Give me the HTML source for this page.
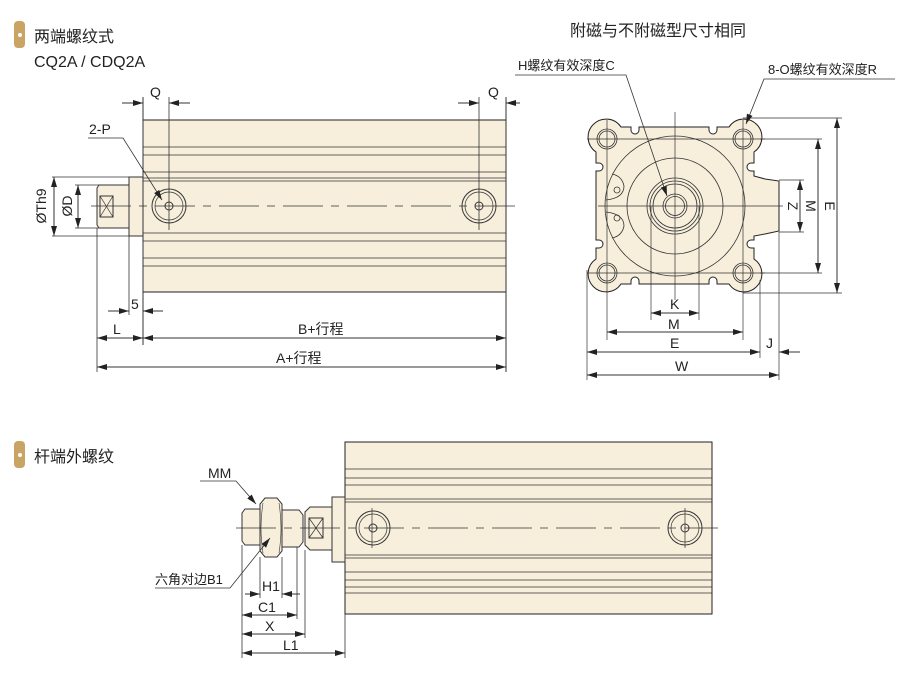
<!DOCTYPE html>
<html><head><meta charset="utf-8"><style>
html,body{margin:0;padding:0;background:#fff;width:924px;height:675px;overflow:hidden}
svg{display:block}
text{font-family:"Liberation Sans","Noto Sans CJK SC",sans-serif;fill:#222}
</style></head><body>
<svg width="924" height="675" viewBox="0 0 924 675" xmlns="http://www.w3.org/2000/svg">
<defs>
<marker id="a" viewBox="0 0 10 6" refX="10" refY="3" markerWidth="10" markerHeight="6" orient="auto-start-reverse" markerUnits="userSpaceOnUse"><path d="M0 0L10 3L0 6z" fill="#222"/></marker>
</defs>
<rect x="14" y="21" width="11" height="27" rx="4" fill="#c9a465"/><circle cx="20" cy="35" r="2" fill="#fff"/>
<text x="34" y="42" font-size="16">两端螺纹式</text>
<text x="34" y="67" font-size="16">CQ2A / CDQ2A</text>
<text x="570" y="36" font-size="16">附磁与不附磁型尺寸相同</text>
<rect x="14" y="441" width="11" height="27" rx="4" fill="#c9a465"/><circle cx="20" cy="455" r="2" fill="#fff"/>
<text x="34" y="462" font-size="16">杆端外螺纹</text>

<g stroke="#333" stroke-width="1" fill="none">
<rect x="143" y="120" width="363" height="172" fill="#f7efdc" stroke="#222"/>
<g stroke-width="0.8"><line x1="143" y1="147" x2="506" y2="147"/><line x1="143" y1="155" x2="506" y2="155"/><line x1="143" y1="172" x2="506" y2="172"/><line x1="143" y1="178" x2="506" y2="178"/><line x1="143" y1="181" x2="506" y2="181"/>
<line x1="143" y1="233" x2="506" y2="233"/><line x1="143" y1="241" x2="506" y2="241"/><line x1="143" y1="258" x2="506" y2="258"/><line x1="143" y1="266" x2="506" y2="266"/></g>
<rect x="129" y="177" width="14" height="59" fill="#f7efdc"/>
<path d="M99 185H129V228H99L97 225V188Z" fill="#f7efdc"/>
<rect x="100" y="196" width="13" height="21"/><path d="M100 196L113 217M113 196L100 217" stroke-width="0.7"/>
<circle cx="169" cy="206" r="17"/><circle cx="169" cy="206" r="14" stroke-width="0.7"/><circle cx="169" cy="206" r="4"/>
<circle cx="479" cy="206" r="17"/><circle cx="479" cy="206" r="14" stroke-width="0.7"/><circle cx="479" cy="206" r="4"/>
<line x1="91" y1="206" x2="515" y2="206" stroke-dasharray="40 8 8 8" stroke-width="0.7"/>
<line x1="169" y1="97" x2="169" y2="230" stroke-width="0.8"/><line x1="479" y1="97" x2="479" y2="230" stroke-width="0.8"/>
<line x1="143" y1="97" x2="143" y2="345"/><line x1="506" y1="97" x2="506" y2="372"/>
<line x1="122" y1="103" x2="143" y2="103" marker-end="url(#a)"/><line x1="190" y1="103" x2="169" y2="103" marker-end="url(#a)"/>
<line x1="458" y1="103" x2="479" y2="103" marker-end="url(#a)"/><line x1="520" y1="103" x2="506" y2="103" marker-end="url(#a)"/>
<polyline points="88,138 123,138 162,200" stroke-width="0.8" marker-end="url(#a)"/>
<line x1="52" y1="177" x2="129" y2="177" stroke-width="0.8"/><line x1="52" y1="236" x2="129" y2="236" stroke-width="0.8"/>
<line x1="75" y1="185" x2="99" y2="185" stroke-width="0.8"/><line x1="75" y1="228" x2="99" y2="228" stroke-width="0.8"/>
<line x1="54" y1="206" x2="54" y2="177" marker-end="url(#a)"/><line x1="54" y1="206" x2="54" y2="236" marker-end="url(#a)"/>
<line x1="78" y1="206" x2="78" y2="185" marker-end="url(#a)"/><line x1="78" y1="206" x2="78" y2="228" marker-end="url(#a)"/>
<line x1="129" y1="236" x2="129" y2="315" stroke-width="0.8"/><line x1="97" y1="228" x2="97" y2="372" stroke-width="0.8"/>
<line x1="108" y1="311" x2="129" y2="311" marker-end="url(#a)"/><line x1="163" y1="311" x2="143" y2="311" marker-end="url(#a)"/>
<line x1="120" y1="338" x2="97" y2="338" marker-end="url(#a)"/><line x1="120" y1="338" x2="143" y2="338" marker-end="url(#a)"/>
<line x1="320" y1="338" x2="143" y2="338" marker-end="url(#a)"/><line x1="320" y1="338" x2="506" y2="338" marker-end="url(#a)"/>
<line x1="300" y1="367" x2="97" y2="367" marker-end="url(#a)"/><line x1="300" y1="367" x2="506" y2="367" marker-end="url(#a)"/>

<path d="M621 127L729 127A18 18 0 1 1 754 152L754 176L765 179L779 181L779 231L765 234L754 236L754 259A18 18 0 1 1 729 284L621 284A18 18 0 1 1 596 259L596 152A18 18 0 1 1 621 127Z" fill="#f7efdc" stroke="#222"/>
<g fill="#fff" stroke="#222">
<path d="M631 126.5V130A4 4 0 0 0 639 130V126.5"/><path d="M709 126.5V130A4 4 0 0 0 717 130V126.5"/>
<path d="M631 284.5V281A4 4 0 0 1 639 281V284.5"/><path d="M709 284.5V281A4 4 0 0 1 717 281V284.5"/>
<path d="M595.5 163H599A4 4 0 0 1 599 171H595.5"/><path d="M595.5 240H599A4 4 0 0 1 599 248H595.5"/>
<path d="M754.5 163H751A4 4 0 0 0 751 171H754.5"/><path d="M754.5 240H751A4 4 0 0 0 751 248H754.5"/>
</g>
<g stroke="#fff" stroke-width="1.5"><line x1="632" y1="127" x2="638" y2="127"/><line x1="710" y1="127" x2="716" y2="127"/><line x1="632" y1="284" x2="638" y2="284"/><line x1="710" y1="284" x2="716" y2="284"/><line x1="596" y1="164" x2="596" y2="170"/><line x1="596" y1="241" x2="596" y2="247"/><line x1="754" y1="164" x2="754" y2="170"/><line x1="754" y1="241" x2="754" y2="247"/></g>
<g stroke-width="0.8"><circle cx="607" cy="139" r="10"/><circle cx="607" cy="139" r="8"/><circle cx="743" cy="139" r="10"/><circle cx="743" cy="139" r="8"/><circle cx="607" cy="273" r="10"/><circle cx="607" cy="273" r="8"/><circle cx="743" cy="273" r="10"/><circle cx="743" cy="273" r="8"/>
<circle cx="675" cy="206" r="70"/><circle cx="675" cy="206" r="48"/><circle cx="675" cy="206" r="28"/><circle cx="675" cy="206" r="25"/><circle cx="675" cy="206" r="22"/><circle cx="675" cy="206" r="12"/><circle cx="675" cy="206" r="9.5"/>
<path d="M612 174Q622 176 624 186Q624 198 606 200"/><path d="M606 212Q624 214 624 226Q622 236 612 238"/><circle cx="617" cy="190" r="3"/><circle cx="617" cy="218" r="3"/></g>
<g stroke-width="0.7"><line x1="587" y1="139" x2="765" y2="139"/><line x1="587" y1="273" x2="765" y2="273"/><line x1="598" y1="206" x2="783" y2="206"/>
<line x1="675" y1="112" x2="675" y2="300"/><line x1="607" y1="120" x2="607" y2="340"/><line x1="743" y1="120" x2="743" y2="340"/>
<line x1="651" y1="206" x2="651" y2="320"/><line x1="699" y1="206" x2="699" y2="320"/><line x1="587" y1="270" x2="587" y2="380"/><line x1="760" y1="280" x2="760" y2="358"/><line x1="779" y1="232" x2="779" y2="380"/>
<line x1="743" y1="118" x2="842" y2="118"/><line x1="743" y1="293" x2="842" y2="293"/><line x1="760" y1="139" x2="822" y2="139"/><line x1="760" y1="273" x2="822" y2="273"/><line x1="779" y1="180" x2="804" y2="180"/><line x1="779" y1="232" x2="804" y2="232"/></g>
<line x1="800" y1="206" x2="800" y2="180" marker-end="url(#a)"/><line x1="800" y1="206" x2="800" y2="232" marker-end="url(#a)"/>
<line x1="818" y1="206" x2="818" y2="139" marker-end="url(#a)"/><line x1="818" y1="206" x2="818" y2="273" marker-end="url(#a)"/>
<line x1="837" y1="206" x2="837" y2="118" marker-end="url(#a)"/><line x1="837" y1="206" x2="837" y2="293" marker-end="url(#a)"/>
<line x1="675" y1="313" x2="651" y2="313" marker-end="url(#a)"/><line x1="675" y1="313" x2="699" y2="313" marker-end="url(#a)"/>
<line x1="675" y1="332" x2="607" y2="332" marker-end="url(#a)"/><line x1="675" y1="332" x2="743" y2="332" marker-end="url(#a)"/>
<line x1="675" y1="352" x2="587" y2="352" marker-end="url(#a)"/><line x1="675" y1="352" x2="760" y2="352" marker-end="url(#a)"/>
<line x1="800" y1="352" x2="779" y2="352" marker-end="url(#a)"/>
<line x1="680" y1="375" x2="587" y2="375" marker-end="url(#a)"/><line x1="680" y1="375" x2="779" y2="375" marker-end="url(#a)"/>
<polyline points="515,75 626,75 667,196" stroke-width="0.8" marker-end="url(#a)"/>
<polyline points="895,79 764,79 746,124" stroke-width="0.8" marker-end="url(#a)"/>

<rect x="345" y="442" width="367" height="172" fill="#f7efdc" stroke="#222"/>
<g stroke-width="0.8"><line x1="345" y1="469" x2="712" y2="469"/><line x1="345" y1="478" x2="712" y2="478"/><line x1="345" y1="485" x2="712" y2="485"/><line x1="345" y1="499" x2="712" y2="499"/><line x1="345" y1="502" x2="712" y2="502"/>
<line x1="345" y1="555" x2="712" y2="555"/><line x1="345" y1="558" x2="712" y2="558"/><line x1="345" y1="572" x2="712" y2="572"/><line x1="345" y1="580" x2="712" y2="580"/><line x1="345" y1="587" x2="712" y2="587"/><line x1="345" y1="593" x2="712" y2="593"/></g>
<rect x="332" y="497" width="13" height="65" fill="#f7efdc"/>
<path d="M310 507H332V550H310L305 545V512Z" fill="#f7efdc"/>
<path d="M282 510H299L303 515V542L299 547H282Z" fill="#f7efdc"/>
<path d="M245 509H260V545H245L242 541V513Z" fill="#f7efdc"/>
<path d="M265 498H277L282 504V551L277 557H265L260 551V504Z" fill="#f7efdc"/>
<path d="M263 503Q259 528 263 553M279 503Q283 528 279 553" stroke-width="0.6"/>
<rect x="309" y="518" width="14" height="20"/><path d="M309 518L323 538M323 518L309 538" stroke-width="0.7"/>
<circle cx="373" cy="528" r="17"/><circle cx="373" cy="528" r="14" stroke-width="0.7"/><circle cx="373" cy="528" r="4"/>
<circle cx="685" cy="528" r="17"/><circle cx="685" cy="528" r="14" stroke-width="0.7"/><circle cx="685" cy="528" r="4"/>
<line x1="372" y1="508" x2="372" y2="548" stroke-width="0.7"/><line x1="685" y1="508" x2="685" y2="548" stroke-width="0.7"/>
<line x1="236" y1="528" x2="718" y2="528" stroke-dasharray="40 8 8 8" stroke-width="0.7"/>
<polyline points="200,481 236,481 256,504" stroke-width="0.8" marker-end="url(#a)"/>
<polyline points="155,588 230,588 270,538" stroke-width="0.8" marker-end="url(#a)"/>
<g stroke-width="0.8"><line x1="242" y1="545" x2="242" y2="658"/><line x1="260" y1="557" x2="260" y2="598"/><line x1="282" y1="557" x2="282" y2="598"/><line x1="297" y1="547" x2="297" y2="619"/><line x1="305" y1="550" x2="305" y2="638"/><line x1="345" y1="614" x2="345" y2="658"/></g>
<line x1="245" y1="594" x2="260" y2="594" marker-end="url(#a)"/><line x1="300" y1="594" x2="282" y2="594" marker-end="url(#a)"/>
<line x1="270" y1="615" x2="242" y2="615" marker-end="url(#a)"/><line x1="270" y1="615" x2="297" y2="615" marker-end="url(#a)"/>
<line x1="273" y1="634" x2="242" y2="634" marker-end="url(#a)"/><line x1="273" y1="634" x2="305" y2="634" marker-end="url(#a)"/>
<line x1="290" y1="653" x2="242" y2="653" marker-end="url(#a)"/><line x1="290" y1="653" x2="345" y2="653" marker-end="url(#a)"/>
</g>

<g font-size="14">
<text x="150" y="97">Q</text><text x="488" y="97">Q</text>
<text x="89" y="134">2-P</text>
<text x="131" y="309">5</text>
<text x="113" y="334">L</text>
<text x="298" y="334">B+行程</text>
<text x="276" y="363">A+行程</text>
<text transform="translate(46,206) rotate(-90)" text-anchor="middle">ØTh9</text>
<text transform="translate(72,206) rotate(-90)" text-anchor="middle">ØD</text>
<text x="518" y="70" font-size="13">H螺纹有效深度C</text>
<text x="768" y="74" font-size="13">8-O螺纹有效深度R</text>
<text x="670" y="309">K</text><text x="668" y="329">M</text><text x="670" y="348">E</text><text x="766" y="348">J</text><text x="675" y="371">W</text>
<text transform="translate(788,206) rotate(90)" text-anchor="middle">Z</text>
<text transform="translate(806,206) rotate(90)" text-anchor="middle">M</text>
<text transform="translate(825,206) rotate(90)" text-anchor="middle">E</text>
<text x="208" y="478">MM</text>
<text x="155" y="584" font-size="13">六角对边B1</text>
<text x="262" y="591">H1</text><text x="258" y="612">C1</text><text x="265" y="631">X</text><text x="283" y="650">L1</text>
</g>
</svg>
</body></html>
